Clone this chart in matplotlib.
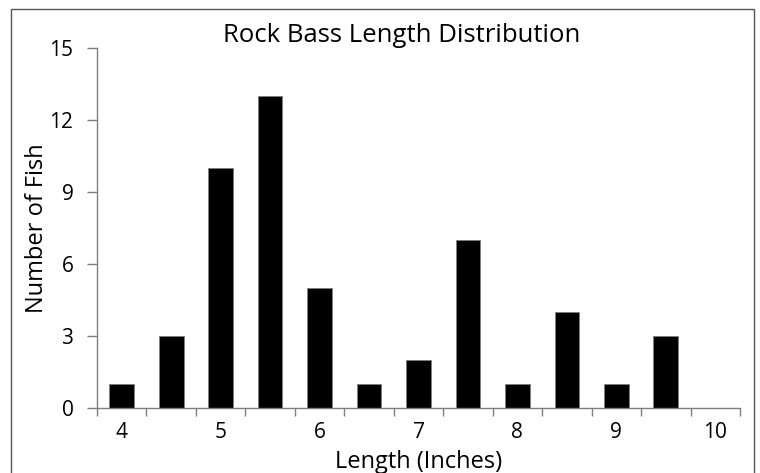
import numpy as np
import matplotlib.pyplot as plt
from matplotlib.patches import Rectangle

plt.rcParams['font.family'] = ['Open Sans', 'DejaVu Sans']

# data
lengths = ["4", "4.5", "5", "5.5", "6", "6.5", "7", "7.5", "8", "8.5", "9", "9.5", "10"]
counts = [1, 3, 10, 13, 5, 1, 2, 7, 1, 4, 1, 3, 0]
tick_labels = ["4", "", "5", "", "6", "", "7", "", "8", "", "9", "", "10"]
y_ticks = [0, 3, 6, 9, 12, 15]

fig = plt.figure(figsize=(7.6, 4.73), dpi=100)
ax = fig.add_axes([97/760, 1 - 408/473, (740 - 97)/760, (408 - 48)/473])

x = np.arange(len(lengths))
ax.bar(x, counts, width=0.5, color="black", edgecolor="#7f7f7f", linewidth=0.6)

ax.set_xlim(-0.5, len(lengths) - 0.5)
ax.set_ylim(0, 15)
ax.set_yticks(y_ticks)
ax.set_xticks(x)
ax.set_xticklabels(tick_labels)
ax.set_xticks(np.arange(-0.5, len(lengths)), minor=True)
ax.tick_params(axis="x", which="major", length=0, pad=10, labelsize=15)
ax.tick_params(axis="x", which="minor", length=6, width=1, color="#7f7f7f", direction="out")
ax.tick_params(axis="y", length=7, width=1, color="#7f7f7f", pad=10, labelsize=15)

for s in ["top", "right"]:
    ax.spines[s].set_visible(False)
for s in ["left", "bottom"]:
    ax.spines[s].set_color("#7f7f7f")
    ax.spines[s].set_linewidth(1)

ax.set_title("Rock Bass Length Distribution", fontsize=18.5, pad=4, x=0.474)
ax.set_xlabel("Length (Inches)", fontsize=17)
ax.xaxis.set_label_coords(0.5, -0.150)
ax.xaxis.label.set_va("center")
ax.set_ylabel("Number of Fish", fontsize=17, labelpad=0)

# outer chart border
fig.patches.append(Rectangle((11/760, -0.05), (754 - 11)/760, 1.05 - 9/473,
                             transform=fig.transFigure, fill=False,
                             edgecolor="#555555", linewidth=1))

fig.savefig("out.png", dpi=100)
